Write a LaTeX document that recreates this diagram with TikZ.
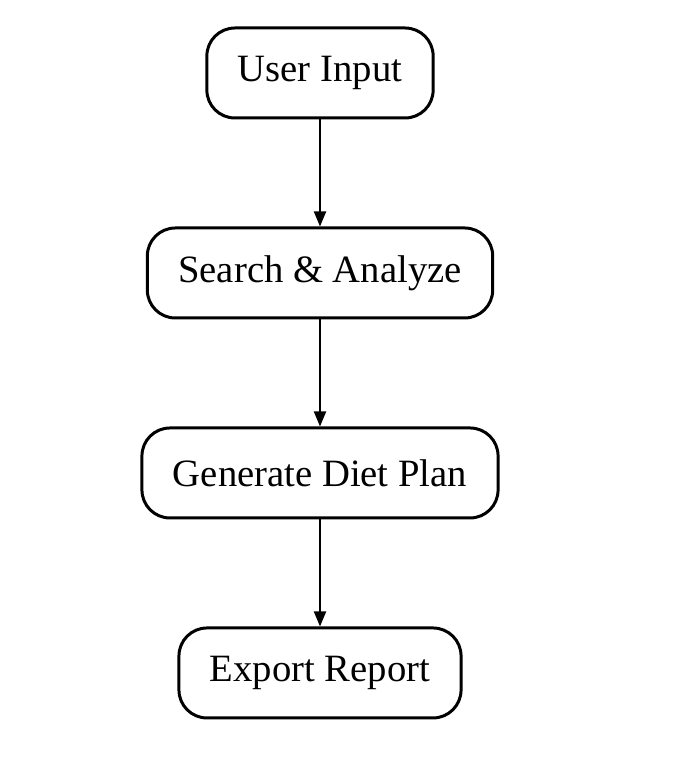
\documentclass[tikz,border=0pt]{standalone}
\usepackage{fontspec}
\setmainfont{Liberation Serif}
\usetikzlibrary{arrows.meta, positioning}

\begin{document}
\begin{tikzpicture}[
  stepbox/.style={draw, rounded corners=2.8mm, line width=0.85pt, minimum height=0.9cm, inner xsep=3.1mm, align=center, font=\fontsize{11}{13}\selectfont},
  flow/.style={-{Triangle[length=1.5mm, width=1.2mm]}, line width=0.55pt},
  node distance=1.07cm
]
\useasboundingbox (0,0) rectangle (6.9,-7.66);

\node[stepbox] (input) at (3.2,-0.73) {User Input};
\node[stepbox, below=of input] (search) {Search \& Analyze};
\node[stepbox, below=of search] (plan) {Generate Diet Plan};
\node[stepbox, below=of plan] (export) {Export Report};

\draw[flow] (input) -- (search);
\draw[flow] (search) -- (plan);
\draw[flow] (plan) -- (export);

\end{tikzpicture}
\end{document}
